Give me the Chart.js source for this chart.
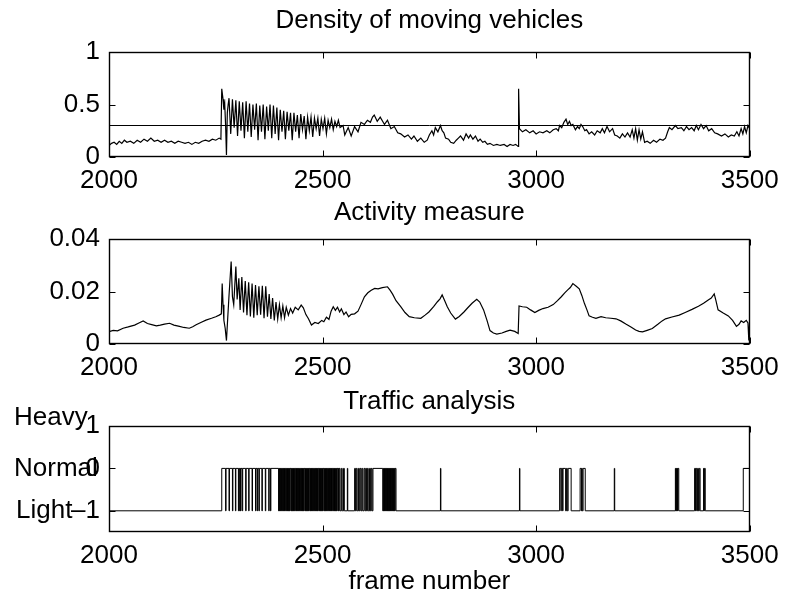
<!DOCTYPE html>
<html>
<head>
<meta charset="utf-8">
<script src="https://cdn.jsdelivr.net/npm/chart.js@4"></script>
<style>
  body { margin: 0; background: #fff; }
  canvas { position: absolute; left: 0; }
</style>
</head>
<body>
<canvas id="densityChart" width="787" height="195" style="top:0px"></canvas>
<canvas id="activityChart" width="787" height="190" style="top:195px"></canvas>
<canvas id="trafficChart" width="787" height="216" style="top:385px"></canvas>
<script>
// frame axis, shared by the three panels
const xTicks = [2000, 2500, 3000, 3500];
const xTickLabels = ["2000", "2500", "3000", "3500"];

// density of moving vehicles
const densityFrames = [2000, 2006, 2012, 2018, 2024, 2030, 2036, 2042, 2050, 2058, 2066, 2074, 2082, 2090, 2098, 2106, 2114, 2122, 2130, 2138,
  2146, 2154, 2162, 2170, 2178, 2186, 2194, 2202, 2210, 2218, 2226, 2234, 2242, 2250, 2258, 2262,
  2264, 2267, 2269, 2271, 2273, 2275, 2277, 2279,
  2281, 2285, 2289, 2293, 2297, 2301, 2305, 2309, 2313, 2317, 2321, 2325, 2329, 2333, 2337, 2341, 2345, 2349, 2353, 2357,
  2361, 2365, 2369, 2373, 2377, 2381, 2385, 2389, 2393, 2397, 2401, 2405, 2409, 2413, 2417, 2421, 2425, 2429, 2433, 2437,
  2441, 2445, 2449, 2453, 2457, 2461, 2465, 2469, 2473, 2477, 2481, 2485, 2489, 2493, 2497, 2501, 2505, 2509, 2513, 2517,
  2521, 2525, 2529, 2533, 2537, 2541,
  2548, 2552, 2560, 2567, 2575, 2583, 2590, 2598, 2605, 2612, 2617, 2621, 2628, 2635, 2645, 2652, 2660, 2668, 2676, 2683,
  2692, 2700, 2708, 2714, 2722, 2730, 2738, 2745, 2750, 2756, 2760, 2764, 2770, 2776, 2780, 2784, 2788, 2795, 2800, 2807,
  2813, 2818, 2823, 2830, 2836, 2842, 2846, 2852, 2858, 2864, 2869, 2875, 2880, 2886, 2892, 2900, 2908, 2916, 2925, 2932,
  2939, 2946, 2952, 2958, 2959, 2961, 2968, 2976, 2985, 2993, 3000, 3008, 3016, 3025, 3032, 3040, 3047, 3052, 3055, 3060,
  3065, 3070, 3074, 3078, 3082, 3086, 3092, 3097, 3101, 3105, 3109, 3114, 3118, 3124, 3130, 3137, 3143, 3150, 3155, 3160,
  3166, 3172, 3179, 3184, 3190, 3196, 3202, 3208, 3214, 3220, 3225, 3229, 3233, 3237, 3241, 3245, 3249, 3254, 3260, 3267,
  3275, 3282, 3290, 3297, 3303, 3308, 3312, 3318, 3326, 3332, 3340, 3346, 3352, 3358, 3364, 3370, 3375, 3380, 3386, 3392,
  3398, 3404, 3411, 3418, 3425, 3434, 3442, 3450, 3457, 3464, 3470, 3475, 3480, 3484, 3488, 3492, 3496, 3500];
const densityValues = [0.11, 0.13, 0.14, 0.12, 0.15, 0.13, 0.16, 0.14, 0.15, 0.13, 0.16, 0.14, 0.17, 0.15, 0.18, 0.15, 0.16, 0.14, 0.16, 0.14,
  0.15, 0.13, 0.15, 0.14, 0.13, 0.14, 0.12, 0.14, 0.13, 0.15, 0.16, 0.15, 0.17, 0.16, 0.18, 0.17,
  0.65, 0.55, 0.45, 0.50, 0.30, 0.02, 0.42, 0.50,
  0.56, 0.22, 0.55, 0.28, 0.54, 0.20, 0.53, 0.25, 0.52, 0.18, 0.53, 0.24, 0.51, 0.19, 0.50, 0.26, 0.51, 0.16, 0.49, 0.24,
  0.50, 0.17, 0.48, 0.25, 0.50, 0.18, 0.49, 0.22, 0.47, 0.16, 0.45, 0.24, 0.44, 0.17, 0.43, 0.25, 0.42, 0.16, 0.42, 0.24,
  0.40, 0.18, 0.41, 0.26, 0.39, 0.17, 0.38, 0.25, 0.38, 0.19, 0.37, 0.27, 0.37, 0.20, 0.36, 0.27, 0.37, 0.22, 0.35, 0.28,
  0.36, 0.26, 0.34, 0.29, 0.35, 0.28,
  0.30, 0.21, 0.28, 0.20, 0.29, 0.24, 0.33, 0.31, 0.35, 0.33, 0.38, 0.40, 0.34, 0.38, 0.31, 0.35, 0.27, 0.29, 0.23, 0.22,
  0.19, 0.21, 0.17, 0.20, 0.15, 0.18, 0.14, 0.16, 0.21, 0.25, 0.21, 0.28, 0.24, 0.30, 0.25, 0.23, 0.18, 0.17, 0.14, 0.13,
  0.16, 0.18, 0.20, 0.16, 0.22, 0.18, 0.21, 0.17, 0.20, 0.15, 0.17, 0.14, 0.15, 0.12, 0.13, 0.11, 0.12, 0.11, 0.12, 0.10,
  0.12, 0.11, 0.12, 0.10, 0.65, 0.27, 0.24, 0.26, 0.23, 0.25, 0.22, 0.24, 0.23, 0.25, 0.23, 0.26, 0.27, 0.25, 0.30, 0.28,
  0.33, 0.36, 0.31, 0.34, 0.30, 0.31, 0.26, 0.29, 0.27, 0.31, 0.29, 0.25, 0.26, 0.22, 0.24, 0.21, 0.25, 0.23, 0.27, 0.23,
  0.29, 0.24, 0.27, 0.21, 0.20, 0.18, 0.22, 0.19, 0.23, 0.19, 0.26, 0.18, 0.27, 0.16, 0.26, 0.17, 0.24, 0.14, 0.15, 0.13,
  0.16, 0.14, 0.17, 0.16, 0.18, 0.24, 0.28, 0.26, 0.30, 0.27, 0.28, 0.25, 0.29, 0.26, 0.28, 0.25, 0.30, 0.26, 0.31, 0.27,
  0.30, 0.25, 0.27, 0.23, 0.22, 0.20, 0.22, 0.19, 0.21, 0.20, 0.24, 0.20, 0.27, 0.22, 0.29, 0.23, 0.30, 0.27];
const densityThreshold = 0.3;
const densityTicks = [0, 0.5, 1];
const densityTickLabels = ["0", "0.5", "1"];

// activity measure
const activityFrames = [2000, 2010, 2020, 2033, 2045, 2060, 2070, 2080, 2090, 2100, 2111, 2120, 2130, 2142, 2152, 2165, 2175, 2188, 2196, 2204,
  2215, 2227, 2240, 2250, 2258, 2263, 2265, 2267, 2269, 2272, 2275, 2278, 2281, 2286, 2289, 2292, 2297, 2300, 2304, 2307,
  2311, 2315, 2319, 2323, 2327, 2331, 2335, 2339, 2343, 2347, 2351, 2355, 2359, 2363, 2367, 2371, 2375, 2379, 2383, 2387,
  2391, 2395, 2399, 2403, 2407, 2411, 2415, 2420, 2425, 2430, 2436, 2443, 2450, 2455, 2461, 2467, 2474, 2482, 2490, 2498,
  2503, 2509, 2515, 2520, 2525, 2530, 2535, 2540, 2544, 2550, 2555, 2561, 2567, 2575, 2583, 2590, 2598, 2606, 2614, 2622,
  2630, 2640, 2652, 2658, 2664, 2672, 2683, 2693,
  2703, 2715, 2730, 2740, 2749, 2760, 2769, 2775, 2780, 2786, 2792, 2800, 2811, 2820, 2831, 2840, 2850, 2861, 2868, 2877,
  2885, 2892, 2900, 2908, 2920, 2930, 2939, 2950, 2958, 2960, 2968, 2978, 2987, 2997, 3006, 3016, 3028, 3040, 3050, 3059,
  3067, 3074, 3080, 3086, 3094, 3101, 3107, 3113, 3119, 3124, 3132, 3140, 3152, 3163, 3175, 3187, 3198, 3210, 3222, 3233,
  3241, 3249, 3260, 3272, 3285, 3295, 3303, 3318, 3335, 3349, 3365, 3380, 3392, 3403, 3410, 3417, 3421, 3426, 3438, 3450,
  3460, 3469, 3475, 3480, 3486, 3492, 3496, 3498, 3500];
const activityValues = [0.0047, 0.0052, 0.0050, 0.0060, 0.0065, 0.0072, 0.0080, 0.0088, 0.0078, 0.0074, 0.0069, 0.0072, 0.0076, 0.0079, 0.0072, 0.0067, 0.0063, 0.0060, 0.0066, 0.0073,
  0.0082, 0.0091, 0.0098, 0.0104, 0.0110, 0.0115, 0.0230, 0.0150, 0.0090, 0.0060, 0.0013, 0.0100, 0.0185, 0.0314, 0.0180, 0.0150, 0.0295, 0.0170, 0.0250, 0.0130,
  0.0255, 0.0120, 0.0240, 0.0110, 0.0235, 0.0105, 0.0230, 0.0100, 0.0225, 0.0110, 0.0220, 0.0112, 0.0222, 0.0098, 0.0220, 0.0104, 0.0190, 0.0095, 0.0175, 0.0090,
  0.0160, 0.0095, 0.0150, 0.0100, 0.0145, 0.0100, 0.0140, 0.0110, 0.0135, 0.0118, 0.0140, 0.0130, 0.0148, 0.0138, 0.0112, 0.0096, 0.0072, 0.0082, 0.0078, 0.0090,
  0.0085, 0.0102, 0.0094, 0.0125, 0.0142, 0.0128, 0.0140, 0.0122, 0.0134, 0.0112, 0.0122, 0.0104, 0.0113, 0.0115, 0.0125, 0.0150, 0.0180, 0.0195, 0.0205, 0.0212,
  0.0210, 0.0215, 0.0218, 0.0205, 0.0190, 0.0165, 0.0142, 0.0120,
  0.0104, 0.0100, 0.0098, 0.0110, 0.0122, 0.0142, 0.0161, 0.0172, 0.0187, 0.0165, 0.0142, 0.0118, 0.0095, 0.0105, 0.0122, 0.0138, 0.0155, 0.0170, 0.0160, 0.0130,
  0.0090, 0.0051, 0.0042, 0.0038, 0.0042, 0.0048, 0.0053, 0.0048, 0.0040, 0.0145, 0.0142, 0.0140, 0.0130, 0.0120, 0.0128, 0.0135, 0.0140, 0.0150, 0.0165, 0.0180,
  0.0195, 0.0206, 0.0215, 0.0230, 0.0220, 0.0210, 0.0185, 0.0155, 0.0130, 0.0107, 0.0102, 0.0098, 0.0104, 0.0100, 0.0098, 0.0096, 0.0088, 0.0076, 0.0065, 0.0053,
  0.0048, 0.0046, 0.0052, 0.0059, 0.0075, 0.0088, 0.0096, 0.0103, 0.0110, 0.0120, 0.0132, 0.0144, 0.0155, 0.0168, 0.0175, 0.0191, 0.0165, 0.0130, 0.0118, 0.0107,
  0.0090, 0.0067, 0.0075, 0.0088, 0.0082, 0.0090, 0.0080, 0.0013, 0.0090];
const activityTicks = [0, 0.02, 0.04];
const activityTickLabels = ["0", "0.02", "0.04"];

// traffic analysis: frame ranges classified Normal (0), everything else Light (-1)
const normalRuns = [
  [2264, 2273], [2274, 2281], [2282, 2289], [2290, 2296], [2297, 2303], [2304, 2306], [2307, 2308], [2309, 2312],
  [2313, 2320], [2321, 2327], [2328, 2335], [2336, 2343], [2344, 2347], [2348, 2351], [2352, 2358], [2359, 2366],
  [2367, 2374], [2375, 2378], [2379, 2397],
  [2398, 2399], [2400, 2401], [2402, 2403], [2404, 2406], [2407, 2408], [2409, 2410], [2411, 2412], [2413, 2415],
  [2416, 2417], [2418, 2419], [2420, 2421], [2422, 2423], [2424, 2426], [2427, 2428], [2429, 2430], [2431, 2432],
  [2433, 2434], [2435, 2437], [2438, 2439], [2440, 2441], [2442, 2443], [2444, 2445], [2446, 2448], [2449, 2450],
  [2451, 2452], [2453, 2454], [2455, 2456], [2457, 2459], [2460, 2461], [2462, 2463], [2464, 2465], [2466, 2467],
  [2468, 2470], [2471, 2472], [2473, 2474], [2475, 2476], [2477, 2478], [2479, 2481], [2482, 2483], [2484, 2485],
  [2486, 2487], [2488, 2489], [2490, 2492], [2493, 2494], [2495, 2496], [2497, 2498], [2499, 2500], [2501, 2503],
  [2504, 2505], [2506, 2507], [2508, 2509], [2510, 2511], [2512, 2514], [2515, 2516], [2517, 2518], [2519, 2520],
  [2521, 2522], [2523, 2525], [2526, 2527], [2528, 2529], [2530, 2531], [2532, 2533], [2534, 2536], [2537, 2538],
  [2539, 2541], [2544, 2546], [2549, 2551], [2558, 2559],
  [2575, 2577], [2579, 2581], [2584, 2586], [2588, 2590], [2592, 2594], [2597, 2599], [2601, 2603], [2605, 2607],
  [2610, 2612], [2614, 2616], [2618, 2641],
  [2642, 2643], [2644, 2645], [2646, 2647], [2648, 2649], [2650, 2651], [2652, 2653], [2654, 2655], [2656, 2657],
  [2658, 2659], [2660, 2661], [2662, 2663], [2664, 2665], [2666, 2667], [2668, 2669], [2670, 2672],
  [2776, 2777], [2961, 2962],
  [3055, 3058], [3059, 3062], [3063, 3069], [3071, 3073], [3075, 3082],
  [3103, 3106], [3107, 3108], [3110, 3115], [3183, 3184],
  [3326, 3327], [3328, 3329], [3330, 3331], [3332, 3334],
  [3371, 3373], [3374, 3376], [3378, 3380], [3382, 3384], [3392, 3393], [3394, 3396],
  [3485, 3500]];
const trafficTicks = [-1, 0, 1];
const trafficTickLabels = ["\u20131", "0", "1"];
const trafficLevelNames = ["Light", "Normal", "Heavy"];

const FONT = '"Liberation Sans", Arial, sans-serif';
Chart.defaults.font.family = FONT;
Chart.defaults.font.size = 26;
Chart.defaults.color = "#000";

function toPoints(frames, values) {
    return frames.map((f, i) => ({ x: f, y: values[i] }));
}

function trafficPoints() {
    const pts = [{ x: 2000, y: -1 }];
    normalRuns.forEach(([a, b]) => {
        pts.push({ x: a, y: 0 });
        if (b < 3500) pts.push({ x: b, y: -1 });
    });
    pts.push({ x: 3500, y: pts[pts.length - 1].y });
    return pts;
}

// box round the plot with inward ticks on all four sides
const matlabBox = {
    id: "matlabBox",
    afterDatasetsDraw(chart) {
        const { ctx, chartArea: a, scales } = chart;
        const L = Math.round(a.left) + 0.5, R = Math.round(a.right) - 0.5;
        const T = Math.round(a.top) + 0.5, B = Math.round(a.bottom) - 0.5;
        ctx.save();
        ctx.strokeStyle = "#000";
        ctx.lineWidth = 1.4;
        ctx.strokeRect(L, T, R - L, B - T);
        ctx.lineWidth = 1;
        ctx.beginPath();
        scales.x.ticks.forEach(t => {
            const px = Math.round(scales.x.getPixelForValue(t.value)) + 0.5;
            ctx.moveTo(px, T); ctx.lineTo(px, T + 6);
            ctx.moveTo(px, B); ctx.lineTo(px, B - 6);
        });
        scales.y.ticks.forEach(t => {
            const py = Math.round(scales.y.getPixelForValue(t.value)) + 0.5;
            ctx.moveTo(L, py); ctx.lineTo(L + 6, py);
            ctx.moveTo(R, py); ctx.lineTo(R - 6, py);
        });
        ctx.stroke();
        ctx.restore();
    }
};

// Heavy / Normal / Light names beside the traffic ticks
const levelNames = {
    id: "levelNames",
    afterDraw(chart) {
        const { ctx, scales } = chart;
        const nudge = [0, 0, -8];
        const left = [16, 14, 14];
        ctx.save();
        ctx.font = "26px " + FONT;
        ctx.fillStyle = "#000";
        ctx.textAlign = "left";
        ctx.textBaseline = "middle";
        trafficLevelNames.forEach((name, i) => {
            ctx.fillText(name, left[i], scales.y.getPixelForValue(trafficTicks[i]) + nudge[i]);
        });
        ctx.restore();
    }
};

function makeChart(id, datasets, opts) {
    return new Chart(document.getElementById(id), {
        type: "line",
        data: { datasets: datasets },
        plugins: opts.extraPlugins || [matlabBox],
        options: {
            responsive: false,
            animation: false,
            events: [],
            layout: { padding: { top: opts.padTop, left: 0, right: 32, bottom: 0 } },
            elements: { point: { radius: 0 }, line: { borderWidth: 1.2, borderColor: "#000", tension: 0 } },
            scales: {
                x: {
                    type: "linear",
                    min: 2000,
                    max: 3500,
                    afterBuildTicks: s => { s.ticks = xTicks.map(v => ({ value: v })); },
                    afterFit: s => { s.height = opts.xHeight; },
                    grid: { display: false, drawTicks: false },
                    border: { display: false },
                    ticks: { padding: 8.4, maxRotation: 0, autoSkip: false, callback: (v, i) => xTickLabels[i] },
                    title: opts.xTitle || { display: false }
                },
                y: {
                    type: "linear",
                    min: opts.yMin,
                    max: opts.yMax,
                    afterBuildTicks: s => { s.ticks = opts.yTicks.map(v => ({ value: v })); },
                    afterFit: s => { s.width = 109; },
                    grid: { display: false, drawTicks: false },
                    border: { display: false },
                    ticks: { padding: 9, autoSkip: false, callback: (v, i) => opts.yLabels[i] }
                }
            },
            plugins: {
                legend: { display: false },
                tooltip: { enabled: false },
                title: {
                    display: true,
                    fullSize: false,
                    text: opts.title,
                    font: { size: 26, weight: "normal" },
                    color: "#000",
                    padding: { top: 0, bottom: opts.titleGap }
                }
            }
        }
    });
}

makeChart("densityChart", [
    { data: toPoints(densityFrames, densityValues), borderColor: "#000" },
    { data: [{ x: 2000, y: densityThreshold }, { x: 3500, y: densityThreshold }], borderColor: "#000", borderWidth: 1 }
], {
    title: "Density of moving vehicles", padTop: 5.4, titleGap: 15.4, xHeight: 38,
    yMin: 0, yMax: 1, yTicks: densityTicks, yLabels: densityTickLabels
});

makeChart("activityChart", [
    { data: toPoints(activityFrames, activityValues), borderColor: "#000" }
], {
    title: "Activity measure", padTop: 2.4, titleGap: 10.4, xHeight: 41,
    yMin: 0, yMax: 0.04, yTicks: activityTicks, yLabels: activityTickLabels
});

makeChart("trafficChart", [
    { data: trafficPoints(), borderColor: "#000", borderWidth: 1, stepped: "before" }
], {
    title: "Traffic analysis", padTop: 1.4, titleGap: 8.4, xHeight: 69,
    yMin: -1.5, yMax: 1, yTicks: trafficTicks, yLabels: trafficTickLabels,
    extraPlugins: [matlabBox, levelNames],
    xTitle: { display: true, text: "frame number", font: { size: 26 }, color: "#000", padding: { top: 0, bottom: 3.4 } }
});
</script>
</body>
</html>
